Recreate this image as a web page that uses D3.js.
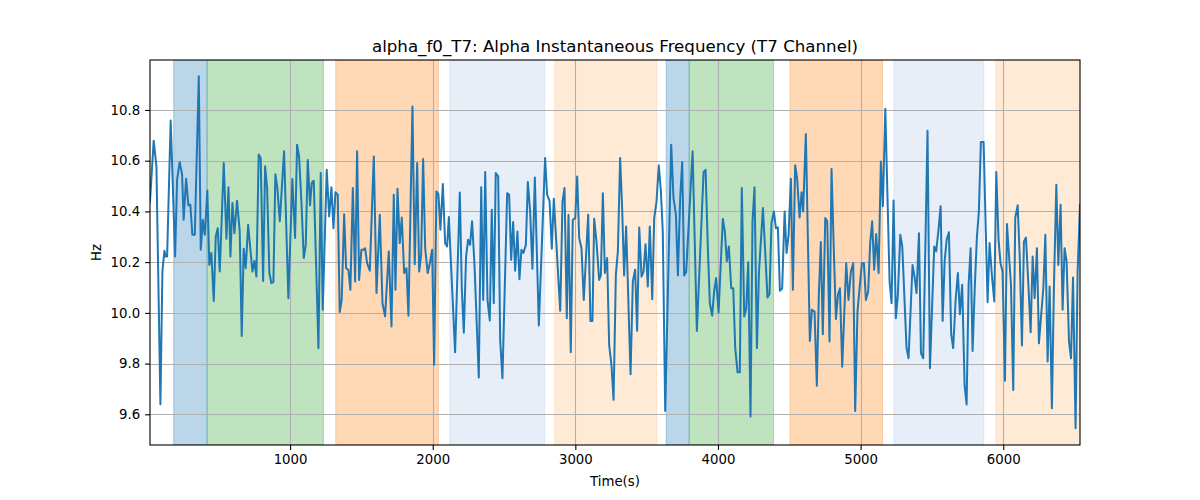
<!DOCTYPE html>
<html>
<head>
<meta charset="utf-8">
<script src="https://cdn.jsdelivr.net/npm/d3@7"></script>
<style>
  html, body { margin: 0; padding: 0; background: #fff; }
  svg { display: block; font-family: "DejaVu Sans", sans-serif; }
</style>
</head>
<body>
<svg id="chart" width="1200" height="500"></svg>
<script>
const titleText = "alpha_f0_T7: Alpha Instantaneous Frequency (T7 Channel)";
const xLabel = "Time(s)";
const yLabel = "Hz";
const xTicks = [1000, 2000, 3000, 4000, 5000, 6000];
const yTicks = [9.6, 9.8, 10.0, 10.2, 10.4, 10.6, 10.8];
const xDomain = [18, 6538];
const yDomain = [9.479, 10.997];

const bandStart = [184, 418, 1320, 2120, 2856, 3637, 3798, 4504, 5233, 5948];
const bandEnd   = [418, 1234, 2040, 2784, 3571, 3798, 4390, 5154, 5864, 6538];
const bandColor = ["#1f77b4", "#2ca02c", "#ff7f0e", "#aec7e8", "#ffbb78",
                   "#1f77b4", "#2ca02c", "#ff7f0e", "#aec7e8", "#ffbb78"];

const time = [18,44,63,91,105,119,128,138,163,194,208,226,243,254,271,287,301,315,332,360,374,388,402,420,434,448,465,479,493,507,535,554,568,582,596,610,628,647,661,675,689,706,720,736,750,764,780,794,811,825,839,855,869,883,897,911,928,958,988,1016,1035,1049,
1063,1080,1096,1110,1124,1140,1152,1166,1199,1215,1229,1257,1274,1290,1304,1318,1334,1348,1362,1379,1393,1409,1423,1440,1456,1470,1484,1500,1512,1526,1540,1559,1587,1606,1629,1648,1666,1692,1711,1727,1739,1753,1769,1783,1800,1816,1830,1858,1874,1891,1905,1919,1933,1947,1965,1980,1996,2010,2026,2040,2054,2071,2087,2101,
2113,2157,2190,2204,2218,2234,2248,2262,2276,2293,2323,2340,2354,2368,2384,2400,2414,2428,2442,2459,2473,2489,2522,2536,2550,2564,2578,2594,2608,2622,2636,2653,2667,2683,2699,2716,2744,2788,2802,2819,2835,2849,2894,2910,2924,2940,2952,2968,2982,2999,3013,3027,3043,3059,3090,3106,3120,3132,3148,3167,
3179,3193,3207,3223,3237,3253,3268,3284,3298,3314,3328,3342,3356,3387,3403,3419,3433,3448,3464,3478,3492,3508,3522,3539,3553,3569,3585,3599,3613,3630,3672,3688,3705,3719,3735,3749,3763,3777,3822,3852,3899,3913,3929,3943,3959,3973,3987,4004,4018,4034,4048,4062,4076,4093,4107,4121,4137,4153,4167,4184,4198,4212,
4228,4242,4256,4273,4287,4315,4331,4347,4361,4375,4392,4406,4420,4434,4450,4467,4481,4495,4511,4525,4541,4555,4572,4586,4597,4616,4644,4658,4677,4693,4707,4721,4735,4752,4766,4782,4796,4813,4827,4841,4855,4871,4899,4915,4932,4948,4962,4978,4995,5009,5023,5037,5053,5067,5081,5095,5109,5126,5142,5156,5173,5203,5217,5231,5247,5261,
5278,5292,5322,5336,5364,5378,5392,5409,5423,5439,5469,5486,5516,5530,5547,5561,5575,5589,5603,5619,5635,5649,5666,5682,5696,5712,5729,5743,5757,5771,5785,5801,5815,5829,5843,5862,5890,5904,5921,5937,5951,5967,5981,5995,6012,6026,6040,6054,6070,6084,6101,6115,6131,6145,6159,6175,6192,6206,6220,6236,6250,6264,6281,6295,6311,6325,6341,6355,6372,6386,6402,6416,6430,6444,6461,6475,6489,6507,6521,6538];

const freq = [10.44,10.679,10.578,9.64,10.163,10.245,10.222,10.222,10.758,10.222,10.525,10.595,10.545,10.367,10.529,10.424,10.426,10.308,10.308,10.933,10.249,10.367,10.308,10.482,10.189,10.236,10.047,10.301,10.334,10.163,10.591,10.292,10.495,10.222,10.433,10.314,10.442,10.321,9.909,10.253,10.176,10.347,10.262,10.163,10.205,10.143,10.624,10.611,10.126,10.578,10.492,10.157,10.117,10.121,10.547,10.492,10.361,10.637,10.058,10.528,10.295,10.663,
10.617,10.433,10.216,10.268,10.603,10.424,10.512,10.521,9.861,10.551,10.012,10.564,10.380,10.495,10.334,10.476,10.466,10.003,10.051,10.389,10.176,10.170,10.091,10.492,10.124,10.637,10.130,10.249,10.249,10.255,10.196,10.166,10.617,10.078,10.387,10.038,9.986,10.242,9.946,10.466,10.091,10.489,10.275,10.376,10.157,10.176,9.989,10.814,10.192,10.591,10.163,10.229,10.607,10.255,10.157,10.196,10.249,9.795,10.479,10.468,10.328,10.508,10.275,10.262,
10.378,9.845,10.475,10.097,9.922,10.222,10.288,10.268,10.361,10.189,9.745,10.495,10.051,10.555,10.051,9.970,10.407,10.038,10.551,10.538,9.893,9.742,10.472,10.466,10.209,10.358,10.166,10.321,10.133,10.249,10.236,10.268,10.516,10.400,10.174,10.534,9.950,10.611,10.466,10.442,10.253,10.450,10.008,10.439,10.492,9.979,10.387,9.845,10.366,10.374,10.538,10.295,10.255,10.051,10.387,9.968,9.968,10.371,10.282,10.130,
10.150,10.472,10.157,10.216,9.874,9.795,9.657,10.150,10.242,10.611,10.413,10.147,10.341,9.758,10.124,10.170,9.929,10.337,10.143,10.163,10.271,10.104,10.341,10.054,10.374,10.439,10.582,10.486,10.321,9.613,10.663,10.453,10.387,10.147,10.453,10.595,10.147,10.161,10.637,9.929,10.555,10.564,10.255,10.038,9.989,10.084,10.137,10.001,10.176,10.370,10.321,10.203,10.262,10.097,10.097,9.861,9.766,9.766,10.492,9.986,10.018,10.200,
9.591,10.361,10.495,9.861,10.157,10.413,10.242,10.061,10.074,10.354,10.400,10.334,10.337,10.087,10.097,10.400,10.236,10.308,10.529,10.091,10.582,10.529,10.376,10.476,10.400,10.705,9.889,10.012,10.005,9.713,10.071,10.279,9.916,10.374,10.361,9.887,10.567,10.229,9.976,10.071,10.097,9.788,10.196,10.051,10.163,10.196,9.613,10.005,10.111,10.196,10.196,10.051,10.084,10.275,10.361,10.170,10.311,10.157,10.597,10.420,10.805,10.124,10.038,10.443,9.979,10.071,
10.308,10.262,9.861,9.821,10.189,10.143,10.078,10.314,9.841,9.821,10.718,9.782,10.262,10.242,10.334,10.420,9.968,10.203,10.288,10.318,9.916,9.861,10.051,10.157,9.995,10.111,9.713,9.639,10.111,10.255,9.850,10.111,10.297,10.400,10.674,10.674,10.042,10.275,10.143,10.045,10.555,10.288,10.196,10.163,9.732,10.350,10.229,10.111,9.696,10.374,10.424,10.229,9.871,10.282,10.297,10.124,9.924,10.222,10.058,10.255,9.880,9.979,10.097,10.308,9.808,10.104,9.624,10.097,10.505,10.189,10.426,10.012,10.255,10.203,9.887,9.821,10.139,9.545,10.157,10.426];

const W = 1200, H = 500;
const m = { left: 150, right: 1080, top: 60, bottom: 445 };
const svg = d3.select("#chart");

const x = d3.scaleLinear().domain(xDomain).range([m.left, m.right]);
const y = d3.scaleLinear().domain(yDomain).range([m.bottom, m.top]);

svg.append("defs").append("clipPath").attr("id", "clip")
  .append("rect").attr("x", m.left).attr("y", m.top)
  .attr("width", m.right - m.left).attr("height", m.bottom - m.top);

const plot = svg.append("g").attr("clip-path", "url(#clip)");

// bands
plot.selectAll("rect.band").data(bandStart).join("rect")
  .attr("class", "band")
  .attr("x", (d, i) => x(d))
  .attr("y", m.top)
  .attr("width", (d, i) => x(bandEnd[i]) - x(d))
  .attr("height", m.bottom - m.top)
  .attr("fill", (d, i) => bandColor[i])
  .attr("fill-opacity", 0.3)
  .attr("stroke", (d, i) => bandColor[i])
  .attr("stroke-opacity", 0.3)
  .attr("stroke-width", 1);

// grid
plot.selectAll("line.gx").data(xTicks).join("line")
  .attr("x1", d => Math.round(x(d)) + 0.5).attr("x2", d => Math.round(x(d)) + 0.5)
  .attr("y1", m.top).attr("y2", m.bottom)
  .attr("stroke", "#b0b0b0").attr("stroke-width", 1.1);
plot.selectAll("line.gy").data(yTicks).join("line")
  .attr("y1", d => Math.round(y(d)) + 0.5).attr("y2", d => Math.round(y(d)) + 0.5)
  .attr("x1", m.left).attr("x2", m.right)
  .attr("stroke", "#b0b0b0").attr("stroke-width", 1.1);

// line
const pts = time.map((t, i) => [t, freq[i]]);
plot.append("path")
  .datum(pts)
  .attr("fill", "none")
  .attr("stroke", "#1f77b4")
  .attr("stroke-width", 2)
  .attr("stroke-linejoin", "round")
  .attr("stroke-linecap", "square")
  .attr("d", d3.line().x(d => x(d[0])).y(d => y(d[1])));

// axes
const xAxis = d3.axisBottom(x).tickValues(xTicks).tickFormat(d3.format("d")).tickSize(4.9).tickPadding(4.9);
const yAxis = d3.axisLeft(y).tickValues(yTicks).tickFormat(d3.format(".1f")).tickSize(4.9).tickPadding(4.9);

const gx = svg.append("g").attr("transform", `translate(0,${m.bottom})`).call(xAxis);
const gy = svg.append("g").attr("transform", `translate(${m.left},0)`).call(yAxis);
[gx, gy].forEach(g => {
  g.select(".domain").remove();
  g.selectAll(".tick line").attr("stroke", "#000").attr("stroke-width", 1.1);
  g.selectAll(".tick text").attr("fill", "#000").style("font-size", "13.3px").style("font-family", "DejaVu Sans");
});

// spines
svg.append("rect")
  .attr("x", m.left).attr("y", m.top)
  .attr("width", m.right - m.left).attr("height", m.bottom - m.top)
  .attr("fill", "none").attr("stroke", "#000").attr("stroke-width", 1.1);

// labels
svg.append("text").attr("x", (m.left + m.right) / 2).attr("y", 52)
  .attr("text-anchor", "middle").style("font-size", "16.67px").text(titleText);
svg.append("text").attr("x", (m.left + m.right) / 2).attr("y", 486)
  .attr("text-anchor", "middle").style("font-size", "13.3px").text(xLabel);
svg.append("text").attr("transform", `translate(101,${(m.top + m.bottom) / 2}) rotate(-90)`)
  .attr("text-anchor", "middle").style("font-size", "13.3px").text(yLabel);
</script>
</body>
</html>
